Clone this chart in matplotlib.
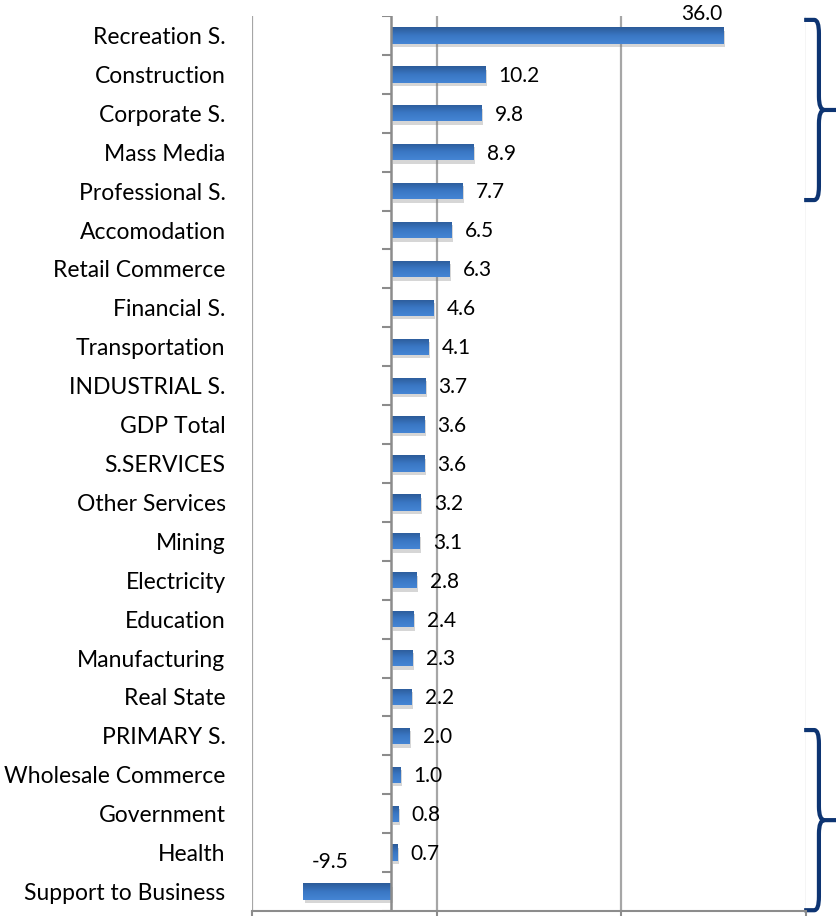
import numpy as np
import matplotlib.pyplot as plt
import matplotlib as mpl
from matplotlib.path import Path
from matplotlib.patches import PathPatch
import matplotlib.patheffects as pe

mpl.rc('font', family=['Lato', 'DejaVu Sans'], size=15)

categories = ['Recreation S.', 'Construction', 'Corporate S.', 'Mass Media', 'Professional S.',
              'Accomodation', 'Retail Commerce', 'Financial S.', 'Transportation', 'INDUSTRIAL S.',
              'GDP Total', 'S.SERVICES', 'Other Services', 'Mining', 'Electricity', 'Education',
              'Manufacturing', 'Real State', 'PRIMARY S.', 'Wholesale Commerce', 'Government',
              'Health', 'Support to Business']
values = [36.0, 10.2, 9.8, 8.9, 7.7, 6.5, 6.3, 4.6, 4.1, 3.7, 3.6, 3.6, 3.2, 3.1, 2.8, 2.4,
          2.3, 2.2, 2.0, 1.0, 0.8, 0.7, -9.5]
top_group = (0, 4)      # Recreation S. .. Professional S.
bottom_group = (18, 22)  # PRIMARY S. .. Support to Business

fig = plt.figure(figsize=(8.36, 9.16), dpi=100)
ax = fig.add_axes([252/836, 5/916, 554/836, 895/916])

y = np.arange(len(categories))
bh = 0.42
bars = ax.barh(y, values, height=bh, color='#3870BA', zorder=3,
               path_effects=[pe.SimplePatchShadow(offset=(1.5, -2.5), shadow_rgbFace='#7a7a7a', alpha=0.3),
                             pe.Normal()])

# vertical gradient on the bars
grad = np.linspace(0, 1, 64).reshape(-1, 1)
cmap = mpl.colors.LinearSegmentedColormap.from_list('bar', ['#4585D4', '#3A77C4', '#2C5B98'])
for b in bars:
    x0, x1 = b.get_x(), b.get_x() + b.get_width()
    y0, y1 = b.get_y(), b.get_y() + b.get_height()
    im = ax.imshow(grad, extent=[min(x0, x1), max(x0, x1), y0, y1], origin='upper',
                   cmap=cmap, aspect='auto', zorder=4, interpolation='bilinear')
    im.set_clip_path(b)

ax.set_xlim(-15, 45)
ax.set_ylim(len(categories) - 0.5, -0.5)

# value labels
for i, v in enumerate(values):
    if v == max(values):
        ax.annotate(f'{v:.1f}', (v, i), xytext=(-15, 8), textcoords='offset points',
                    ha='center', va='bottom', zorder=6)
    elif v < 0:
        ax.annotate(f'{v:.1f}', (v / 2, i), xytext=(-12, 14), textcoords='offset points',
                    ha='center', va='bottom', zorder=6)
    else:
        ax.annotate(f'{v:.1f}', (v, i), xytext=(10, -1), textcoords='offset points',
                    ha='left', va='center', zorder=6)

ax.set_yticks(y)
ax.set_yticklabels(categories, fontsize=16.5)
ax.tick_params(axis='y', length=0, pad=19)
ax.set_xticks([-15, 5, 25, 45])
ax.set_xticklabels([])
ax.tick_params(axis='x', length=5, color='#8C8C8C', width=1.5)

for s in ['top', 'right', 'left']:
    ax.spines[s].set_visible(False)
ax.spines['bottom'].set_color('#8C8C8C')
ax.spines['bottom'].set_linewidth(1.5)

for gx in [-15, 5, 25]:
    ax.axvline(gx, color='#A6A6A6', lw=1.6, zorder=1)
ax.axvline(45, color='#D0D0D0', lw=1, zorder=1)

# zero axis with category ticks
ax.axvline(0, color='#8C8C8C', lw=1.8, zorder=5)
ax.hlines(np.arange(len(categories) + 1) - 0.5, -0.95, 0, color='#8C8C8C', lw=1.5, zorder=5)


def bracket(y0, y1):
    xa, xb, xc = 44.8, 46.4, 48.5
    ym = (y0 + y1) / 2
    r = 0.35
    verts = [(xa, y0), (xb - 0.5, y0), (xb, y0), (xb, y0 + r),
             (xb, ym - r), (xb, ym), (xb + 0.6, ym),
             (xc, ym), (xb + 0.6, ym),
             (xb, ym), (xb, ym + r),
             (xb, y1 - r), (xb, y1), (xb - 0.5, y1), (xa, y1)]
    codes = [Path.MOVETO, Path.LINETO, Path.CURVE3, Path.CURVE3,
             Path.LINETO, Path.CURVE3, Path.CURVE3,
             Path.LINETO, Path.MOVETO,
             Path.CURVE3, Path.CURVE3,
             Path.LINETO, Path.CURVE3, Path.CURVE3, Path.LINETO]
    ax.add_patch(PathPatch(Path(verts, codes), fill=False, edgecolor='#0D3472', lw=3,
                           clip_on=False, capstyle='butt', joinstyle='round'))


bracket(top_group[0] - 0.4, top_group[1] + 0.23)
bracket(bottom_group[0] - 0.15, bottom_group[1] + 0.48)

plt.savefig('out.png', dpi=100)
